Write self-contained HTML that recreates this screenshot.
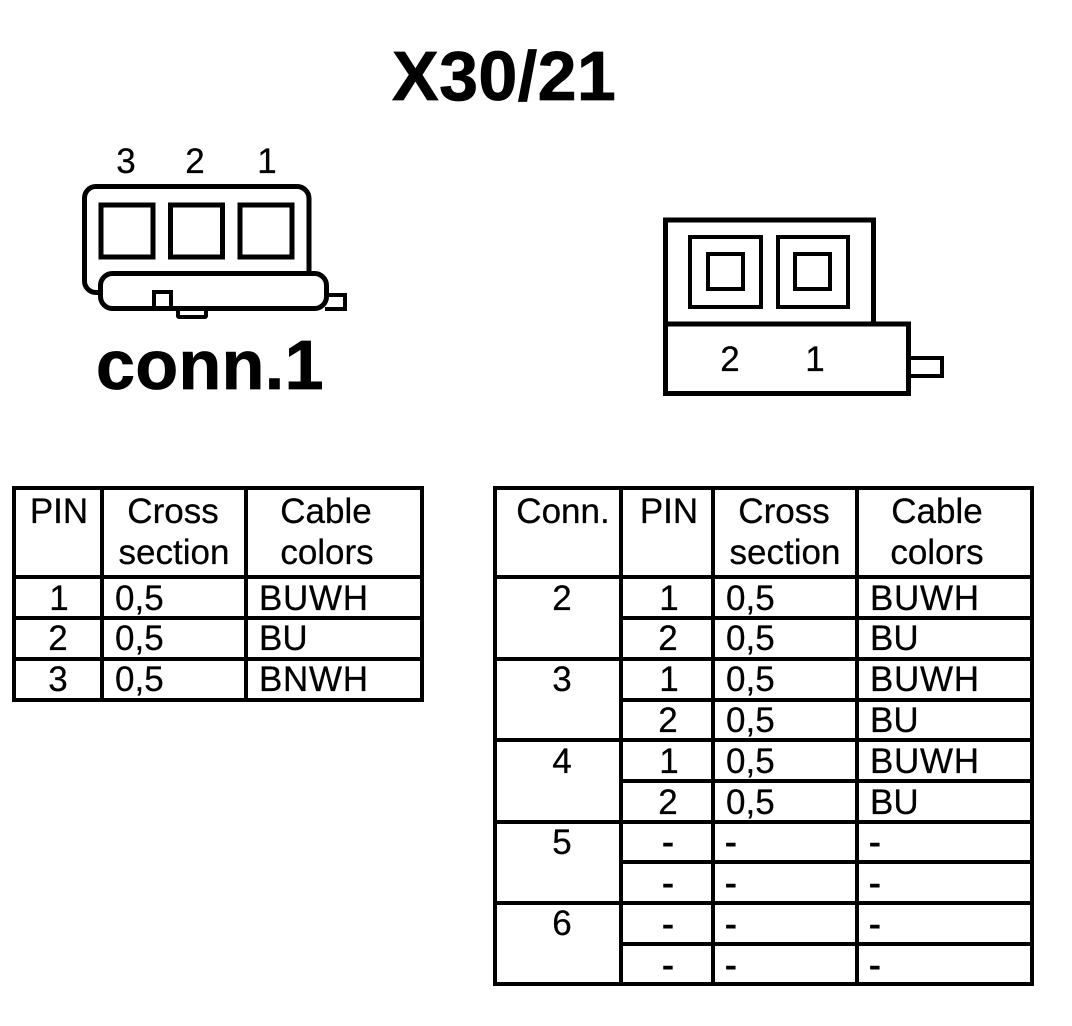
<!DOCTYPE html>
<html><head><meta charset="utf-8"><style>
html,body{margin:0;padding:0;background:#fff}
svg{display:block}
text{font-family:"Liberation Sans",sans-serif;fill:#000;font-size:35px;stroke:#000;stroke-width:.25}
.m{text-anchor:middle}
.b{font-weight:bold;font-size:70px;letter-spacing:.4px;stroke-width:.8}
.w{letter-spacing:.7px}
.d{stroke-width:.9}
.l{fill:none;stroke:#000;stroke-width:4}
.g line{stroke:#000;stroke-width:4}
</style></head><body>
<svg width="1072" height="1026" viewBox="0 0 1072 1026" xmlns="http://www.w3.org/2000/svg">
<rect width="1072" height="1026" fill="#fff"/>
<text class="b" x="392" y="100">X30/21</text>
<text class="b" x="96" y="389">conn.1</text>

<text class="m" x="126" y="173" style="font-size:35px">3</text>
<text class="m" x="195" y="173" style="font-size:35px">2</text>
<text class="m" x="267" y="173" style="font-size:35px">1</text>
<path class="l" style="stroke-width:5" d="M101 292.500H96A11.500 11.500 0 0 1 84.500 281V198A11.500 11.500 0 0 1 96 186.500H297A12 12 0 0 1 309 198.500V273"/>
<rect class="l" x="101" y="205" width="52" height="52" style="stroke-width:5"/>
<rect class="l" x="170.500" y="205" width="52" height="52" style="stroke-width:5"/>
<rect class="l" x="240" y="205" width="52" height="52" style="stroke-width:5"/>
<rect class="l" x="100.500" y="273.500" width="226" height="35" rx="12" style="stroke-width:5"/>
<path class="l" d="M154 308V292H171V308"/>
<path class="l" d="M178 310V316A1 1 0 0 0 179 317H205A1 1 0 0 0 206 316V310"/>
<path class="l" d="M327 295H345V309H325"/>

<path class="l" style="stroke-width:5" d="M665.500 393.500V220H873.500V324"/>
<path class="l" style="stroke-width:5" d="M663 324H908.500V393.500H663"/>
<rect class="l" x="690" y="237" width="71" height="70"/>
<rect class="l" x="708" y="254" width="35" height="35"/>
<rect class="l" x="778" y="237" width="70" height="70"/>
<rect class="l" x="795" y="254" width="35" height="35"/>
<path class="l" d="M909 358H942V376H909"/>
<text class="m" x="730" y="371" style="font-size:35px">2</text>
<text class="m" x="815" y="371" style="font-size:35px">1</text>

<g class="g">
<rect x="14" y="488" width="408" height="212" fill="none" stroke="#000" stroke-width="4"/>
<line x1="102" y1="488" x2="102" y2="700"/><line x1="246" y1="488" x2="246" y2="700"/>
<line x1="14" y1="577" x2="422" y2="577"/><line x1="14" y1="618" x2="422" y2="618"/><line x1="14" y1="659" x2="422" y2="659"/>
</g>
<text class="m" x="59" y="523">PIN</text>
<text class="m" x="173" y="523">Cross</text><text class="m" x="174" y="564">section</text>
<text class="m" x="326" y="523">Cable</text><text class="m" x="327" y="564">colors</text>
<text class="m" x="59" y="610">1</text><text x="115" y="610">0,5</text><text class="w" x="259" y="610">BUWH</text>
<text class="m" x="58" y="650">2</text><text x="115" y="650">0,5</text><text x="259" y="650">BU</text>
<text class="m" x="58" y="691">3</text><text x="115" y="691">0,5</text><text class="w" x="259" y="691">BNWH</text>

<g class="g">
<rect x="495" y="488" width="537" height="496" fill="none" stroke="#000" stroke-width="4"/>
<line x1="621" y1="488" x2="621" y2="984"/><line x1="713" y1="488" x2="713" y2="984"/><line x1="857" y1="488" x2="857" y2="984"/>
<line x1="495" y1="577" x2="1032" y2="577"/>
<line x1="621" y1="618" x2="1032" y2="618"/>
<line x1="495" y1="659" x2="1032" y2="659"/>
<line x1="621" y1="700" x2="1032" y2="700"/>
<line x1="495" y1="740" x2="1032" y2="740"/>
<line x1="621" y1="781" x2="1032" y2="781"/>
<line x1="495" y1="822" x2="1032" y2="822"/>
<line x1="621" y1="862" x2="1032" y2="862"/>
<line x1="495" y1="903" x2="1032" y2="903"/>
<line x1="621" y1="944" x2="1032" y2="944"/>
</g>
<text class="m" x="563" y="523">Conn.</text><text class="m" x="669" y="523">PIN</text>
<text class="m" x="784" y="523">Cross</text><text class="m" x="785" y="564">section</text>
<text class="m" x="937" y="523">Cable</text><text class="m" x="937" y="564">colors</text>
<text class="m" x="562" y="610">2</text><text class="m" x="669" y="610">1</text><text x="726" y="610">0,5</text><text class="w" x="870" y="610">BUWH</text>
<text class="m" x="668" y="650">2</text><text x="726" y="650">0,5</text><text x="870" y="650">BU</text>
<text class="m" x="562" y="691">3</text><text class="m" x="669" y="691">1</text><text x="726" y="691">0,5</text><text class="w" x="870" y="691">BUWH</text>
<text class="m" x="668" y="732">2</text><text x="726" y="732">0,5</text><text x="870" y="732">BU</text>
<text class="m" x="562" y="773">4</text><text class="m" x="669" y="773">1</text><text x="726" y="773">0,5</text><text class="w" x="870" y="773">BUWH</text>
<text class="m" x="668" y="814">2</text><text x="726" y="814">0,5</text><text x="870" y="814">BU</text>
<text class="m" x="562" y="854">5</text><text class="m d" x="668" y="854">-</text><text class="d" x="725" y="854">-</text><text class="d" x="869" y="854">-</text>
<text class="m d" x="668" y="895">-</text><text class="d" x="725" y="895">-</text><text class="d" x="869" y="895">-</text>
<text class="m" x="562" y="935">6</text><text class="m d" x="668" y="936">-</text><text class="d" x="725" y="936">-</text><text class="d" x="869" y="936">-</text>
<text class="m d" x="668" y="977">-</text><text class="d" x="725" y="977">-</text><text class="d" x="869" y="977">-</text>
</svg>
</body></html>
